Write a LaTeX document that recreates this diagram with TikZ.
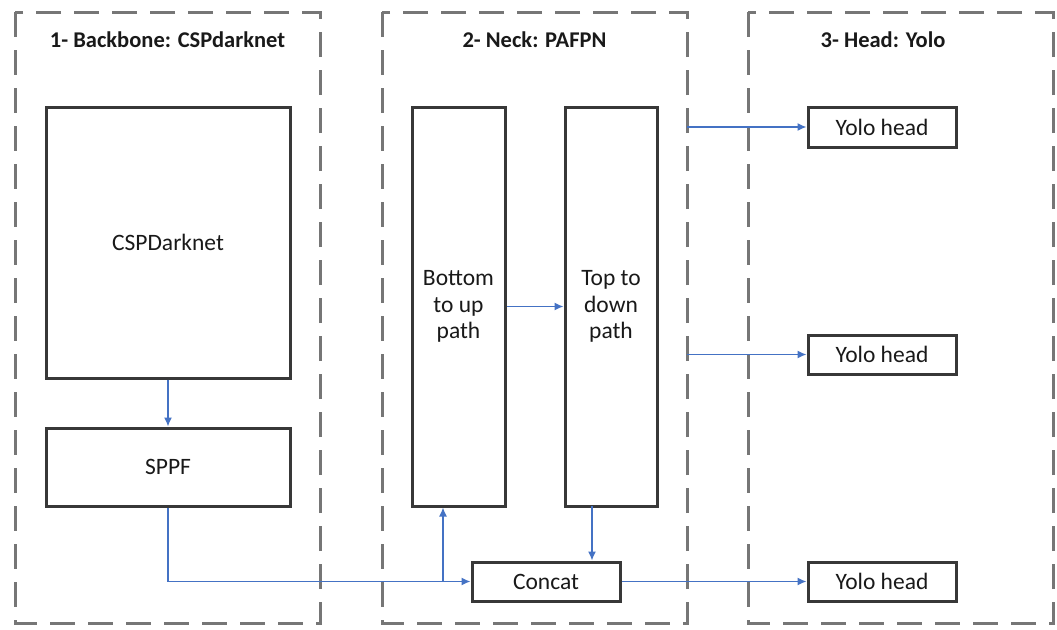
\documentclass[tikz,border=0pt]{standalone}
\usepackage{fontspec}
\setmainfont{Carlito}
\usepackage{xcolor}
\definecolor{ylblue}{RGB}{68,114,196}
\definecolor{ylgray}{RGB}{118,118,118}
\definecolor{yldark}{RGB}{56,56,56}
\usetikzlibrary{arrows.meta, positioning}

\begin{document}
\begin{tikzpicture}[x=1pt, y=-1pt,
    panel/.style={draw=ylgray, line width=3pt, dash pattern=on 25pt off 13pt},
    title/.style={font=\fontsize{22.5}{26}\selectfont\bfseries, text=black!90},
    block/.style={draw=yldark, line width=3pt, fill=white, inner sep=2pt,
                  font=\fontsize{23.5}{26.5}\selectfont, align=center, text=black!90},
    flow/.style={draw=ylblue, line width=1.4pt, -{Latex[length=9pt,width=8pt]}}]

\useasboundingbox (0,0) rectangle (1057,629);

% === Dashed panels ===
\draw[panel] (15,12) rectangle (320,623);
\draw[panel] (382,12) rectangle (687,623);
\draw[panel] (748,12) rectangle (1053,623);

\node[title] (t1) at (167.5,40) {1- Backbone: CSPdarknet};
\node[title] (t2) at (534.5,40) {2- Neck: PAFPN};
\node[title] (t3) at (883,40) {3- Head: Yolo};

% === Backbone ===
\node[block, minimum width=244pt, minimum height=271pt] (cspd) at (168,242.5) {CSPDarknet};
\node[block, minimum width=244pt, minimum height=78pt] (sppf) at (168,467) {SPPF};

% === Neck ===
\node[block, minimum width=93pt, minimum height=399pt] (bup) at (458.5,306.5) {Bottom\\to up\\path};
\node[block, minimum width=92pt, minimum height=399pt] (tdp) at (611,306.5) {Top to\\down\\path};
\node[block, minimum width=148pt, minimum height=39pt] (concat) at (546,581.5) {Concat};

% === Head ===
\node[block, minimum width=148pt, minimum height=40pt] (yh1) at (882,127) {Yolo head};
\node[block, minimum width=148pt, minimum height=39pt] (yh2) at (882,354.5) {Yolo head};
\node[block, minimum width=148pt, minimum height=39pt] (yh3) at (882,581.5) {Yolo head};

% === Connectors ===
\coordinate (split) at (443,581.5);
\coordinate (tdout) at (592,506);
\coordinate (o1) at (687,127);
\coordinate (o2) at (687,354.5);

\draw[flow] (cspd.south) -- (sppf.north);
\draw[flow] (sppf.south) -- (sppf.south |- concat.west) -- (concat.west);
\draw[flow] (split) -- (split |- bup.south);
\draw[flow] (bup.east) -- (tdp.west);
\draw[flow] (tdout) -- (tdout |- concat.north);
\draw[flow] (concat.east) -- (yh3.west);
\draw[flow] (o1) -- (yh1.west);
\draw[flow] (o2) -- (yh2.west);

\end{tikzpicture}
\end{document}
